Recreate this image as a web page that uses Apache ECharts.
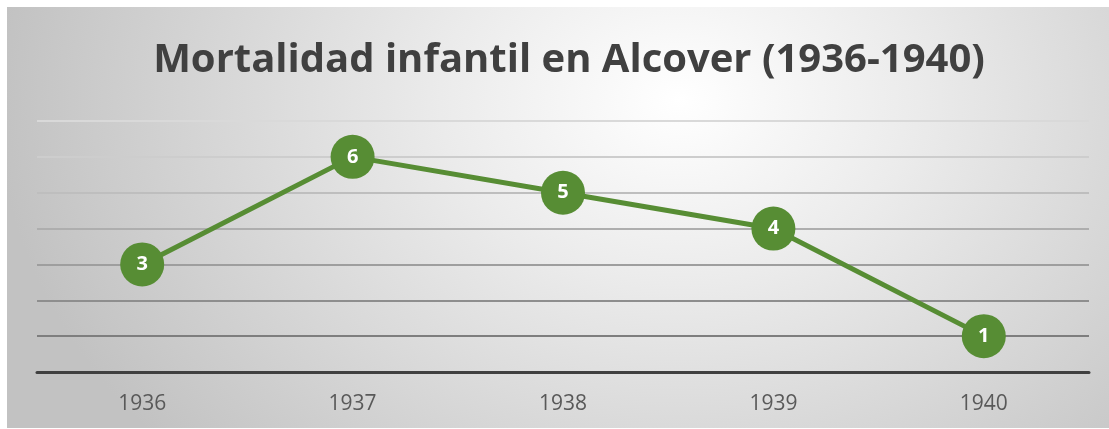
<!DOCTYPE html>
<html>
<head>
<meta charset="utf-8">
<script src="https://cdn.jsdelivr.net/npm/echarts@6/dist/echarts.min.js"></script>
<style>
html,body{margin:0;padding:0;background:#fff;}
#bg{position:absolute;left:7px;top:7px;width:1102px;height:421px;
background:radial-gradient(ellipse 62% 125% at 61% 22%, #ffffff 0%, #ebebeb 35%, #c2c2c2 100%);}
#chart{position:absolute;left:0;top:0;width:1109px;height:429px;}
</style>
</head>
<body>
<div id="bg"></div>
<div id="chart"></div>
<script>
const titleText = 'Mortalidad infantil en Alcover (1936-1940)';
const years = ['1936', '1937', '1938', '1939', '1940'];
const deaths = [3, 6, 5, 4, 1];
const gridColors = ['#7a7a7a', '#7e7e7e', '#8e8e8e', '#9e9e9e', '#aeaeae', '#bebebe', '#cdcdcd', '#d9d9d9'];

const chart = echarts.init(document.getElementById('chart'), null, {renderer: 'canvas'});
chart.setOption({
  backgroundColor: 'transparent',
  animation: false,
  title: {
    text: titleText,
    left: 564, top: 36,
    textAlign: 'center',
    textStyle: {fontFamily: 'Open Sans', fontWeight: 'bold', fontSize: 40, color: '#404040'}
  },
  grid: {left: 37, right: 20, top: 121, bottom: 57},
  xAxis: {
    type: 'category',
    data: years,
    boundaryGap: true,
    axisLine: {lineStyle: {color: '#404040', width: 3}},
    axisTick: {show: false},
    axisLabel: {color: '#595959', fontSize: 21, fontFamily: 'Open Sans', margin: 22}
  },
  yAxis: {
    type: 'value',
    min: 0, max: 7, interval: 1,
    axisLabel: {show: false},
    axisLine: {show: false},
    axisTick: {show: false},
    splitLine: {lineStyle: {color: gridColors, width: 2}}
  },
  series: [{
    type: 'line',
    data: deaths,
    symbol: 'circle',
    symbolSize: 44,
    lineStyle: {color: '#578d34', width: 5},
    itemStyle: {color: '#578d34'},
    label: {
      show: true, position: 'inside',
      color: '#ffffff', fontWeight: 'bold', fontSize: 20, fontFamily: 'Open Sans'
    }
  }]
});
</script>
</body>
</html>
